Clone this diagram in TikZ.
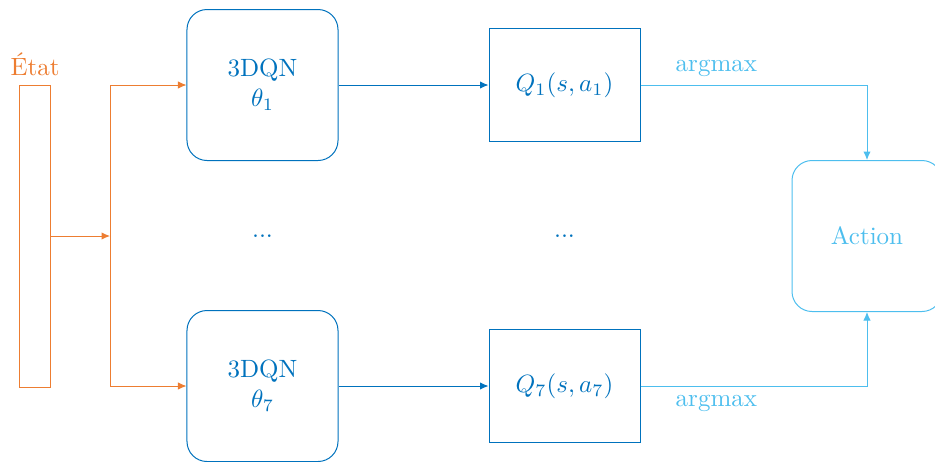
\documentclass[tikz,border=0pt]{standalone}
\usepackage{amsmath}
\usepackage{xcolor}
\usetikzlibrary{arrows.meta, positioning, calc}
\definecolor{etatorange}{RGB}{237,125,49}
\definecolor{netblue}{RGB}{0,114,189}
\definecolor{actblue}{RGB}{77,190,238}
\tikzset{
  statebar/.style={rectangle, draw=etatorange, minimum width=12pt, minimum height=120.8pt, inner sep=0pt},
  netblock/.style={rectangle, draw=netblue, text=netblue, align=center, minimum width=60.4pt, minimum height=60.4pt, rounded corners=8pt},
  qblock/.style={rectangle, draw=netblue, text=netblue, minimum width=60.4pt, minimum height=45.2pt},
  actblock/.style={rectangle, draw=actblue, text=actblue, minimum width=60pt, minimum height=60.4pt, rounded corners=8pt},
  arrow/.style={-{Latex[length=3.4pt, width=3pt]}, thin},
}

\begin{document}
\begin{tikzpicture}[x=0.4pt, y=-0.4pt]
  \useasboundingbox (0,0) rectangle (935,461);

  % state input
  \node[statebar] (etat) at (35,236) {};
  \node[text=etatorange, above=0pt of etat] (etatlabel) {État};
  \coordinate (split) at (110,236);

  % networks
  \node[netblock] (dqn1) at (262.5,85) {3DQN\\ $\theta_1$};
  \node[netblock] (dqn7) at (262.5,386) {3DQN\\ $\theta_7$};
  \node[text=netblue] (dots1) at (262.5,236) {...};

  % Q values
  \node[qblock] (q1) at (564.5,85) {$Q_1(s,a_1)$};
  \node[qblock] (q7) at (564.5,386) {$Q_7(s,a_7)$};
  \node[text=netblue] (dots2) at (564.5,236) {...};

  % action
  \node[actblock] (action) at (867,236) {Action};
  \node[text=actblue, above] (argmax1) at ($(q1.east)!0.335!(q1.east -| action.north)$) {argmax};
  \node[text=actblue, below] (argmax7) at ($(q7.east)!0.335!(q7.east -| action.south)$) {argmax};

  % connectors
  \draw[arrow, etatorange] (etat.east |- split) -- (split);
  \draw[arrow, etatorange] (split) |- (dqn1.west);
  \draw[arrow, etatorange] (split) |- (dqn7.west);
  \draw[arrow, netblue] (dqn1) -- (q1);
  \draw[arrow, netblue] (dqn7) -- (q7);
  \begin{scope}[color={rgb,255:red,77;green,190;blue,238}]
    \draw[arrow] (q1.east) -| (action.north);
    \draw[arrow] (q7.east) -| (action.south);
  \end{scope}
\end{tikzpicture}
\end{document}
